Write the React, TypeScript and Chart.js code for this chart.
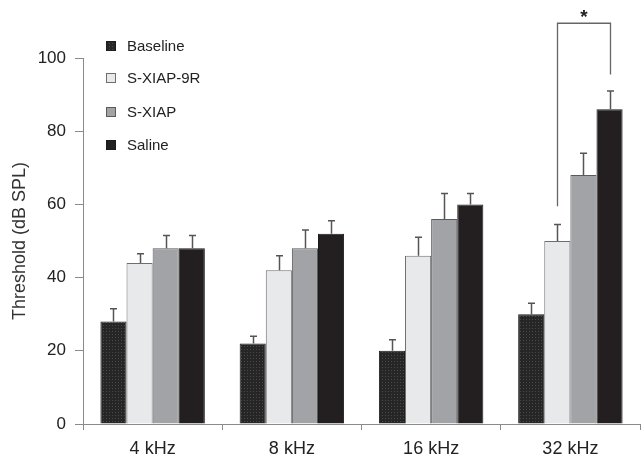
import React, { useEffect, useRef } from "react";
import { Chart, registerables } from "chart.js";

Chart.register(...registerables);

const categories = ["4 kHz", "8 kHz", "16 kHz", "32 kHz"];
const seriesNames = ["Baseline", "S-XIAP-9R", "S-XIAP", "Saline"];
const baseline = [28, 22, 20, 30];
const sxiap9r = [44, 42, 46, 50];
const sxiap = [48, 48, 56, 68];
const saline = [48, 52, 60, 86];
const baselineErr = [3.5, 2, 3, 3];
const sxiap9rErr = [2.5, 4, 5, 4.5];
const sxiapErr = [3.5, 5, 7, 6];
const salineErr = [3.5, 3.5, 3, 5];
const yTicks = [0, 20, 40, 60, 80, 100];

function makePattern(): CanvasPattern | string {
  const c = document.createElement("canvas");
  c.width = 3;
  c.height = 3;
  const g = c.getContext("2d");
  if (!g) return "#2a2a2a";
  g.fillStyle = "#262626";
  g.fillRect(0, 0, 3, 3);
  g.fillStyle = "#4a4a4a";
  g.fillRect(1, 1, 1, 1);
  const p = g.createPattern(c, "repeat");
  return p || "#2a2a2a";
}

const FONT = "'Liberation Sans', Arial, Helvetica, sans-serif";

export default function App() {
  const ref = useRef<HTMLCanvasElement>(null);

  useEffect(() => {
    if (!ref.current) return;
    const pattern = makePattern();
    const values = [baseline, sxiap9r, sxiap, saline];
    const errs = [baselineErr, sxiap9rErr, sxiapErr, salineErr];
    const fills: any[] = [pattern, "#e8e9eb", "#a2a3a6", "#231f20"];
    const borders = ["#1e1e1e", "#6e6e6e", "#5a5a5a", "#1a1a1a"];

    const errorBars = {
      id: "errorBars",
      afterDatasetsDraw(chart: any) {
        const ctx = chart.ctx;
        const yScale = chart.scales.y;
        ctx.save();
        ctx.strokeStyle = "#555";
        ctx.lineWidth = 1.5;
        chart.data.datasets.forEach((ds: any, di: number) => {
          const meta = chart.getDatasetMeta(di);
          meta.data.forEach((bar: any, i: number) => {
            const top = yScale.getPixelForValue(ds.data[i]);
            const eTop = yScale.getPixelForValue(ds.data[i] + errs[di][i]);
            const x = Math.round(bar.x) + 0.5;
            ctx.beginPath();
            ctx.moveTo(x, top);
            ctx.lineTo(x, eTop);
            ctx.moveTo(x - 3.5, eTop);
            ctx.lineTo(x + 3.5, eTop);
            ctx.stroke();
          });
        });
        // significance bracket between S-XIAP-9R and Saline at 32 kHz
        const m1 = chart.getDatasetMeta(1).data[3];
        const m3 = chart.getDatasetMeta(3).data[3];
        const yTop = yScale.getPixelForValue(109.5);
        const yLeft = yScale.getPixelForValue(59.5);
        const yRight = yScale.getPixelForValue(95.5);
        const xl = Math.round(m1.x) + 0.5;
        const xr = Math.round(m3.x) + 0.5;
        ctx.strokeStyle = "#666";
        ctx.lineWidth = 1.3;
        ctx.beginPath();
        ctx.moveTo(xl, yLeft);
        ctx.lineTo(xl, yTop);
        ctx.lineTo(xr, yTop);
        ctx.lineTo(xr, yRight);
        ctx.stroke();
        ctx.fillStyle = "#222";
        ctx.font = `bold 19px ${FONT}`;
        ctx.textAlign = "center";
        ctx.textBaseline = "middle";
        ctx.fillText("*", (xl + xr) / 2, yTop - 5);

        // legend
        ctx.font = `15px ${FONT}`;
        ctx.textAlign = "left";
        ctx.textBaseline = "middle";
        const rows = [46, 78, 112, 145];
        chart.data.datasets.forEach((ds: any, di: number) => {
          const cy = rows[di];
          ctx.fillStyle = fills[di];
          ctx.fillRect(106, cy - 5, 10, 10);
          ctx.strokeStyle = borders[di];
          ctx.lineWidth = 1;
          ctx.strokeRect(106.5, cy - 4.5, 9, 9);
          ctx.fillStyle = "#222";
          ctx.fillText(ds.label, 127, cy + 1);
        });
        ctx.restore();
      },
    };

    const chart = new Chart(ref.current, {
      type: "bar",
      data: {
        labels: categories,
        datasets: seriesNames.map((name, di) => ({
          label: name,
          data: values[di],
          backgroundColor: fills[di],
          borderColor: borders[di],
          borderWidth: 1,
          borderSkipped: "bottom",
          categoryPercentage: 0.75,
          barPercentage: 1,
        })),
      },
      options: {
        animation: false,
        responsive: false,
        maintainAspectRatio: false,
        layout: { padding: { left: 0, right: 1, top: 58, bottom: 0 } },
        plugins: {
          legend: { display: false },
          tooltip: { enabled: false },
        },
        scales: {
          x: {
            grid: {
              offset: true,
              drawOnChartArea: false,
              drawTicks: true,
              tickLength: 6,
              color: "#8a8a8a",
            },
            border: { color: "#8a8a8a", width: 1 },
            ticks: {
              color: "#222",
              font: { family: FONT, size: 18 },
              padding: 8,
            },
            afterFit: (s: any) => {
              s.height = 41;
            },
          },
          y: {
            min: 0,
            max: 100,
            afterBuildTicks: (s: any) => {
              s.ticks = yTicks.map((v) => ({ value: v }));
            },
            grid: {
              drawOnChartArea: false,
              drawTicks: true,
              tickLength: 8,
              color: "#8a8a8a",
            },
            border: { color: "#8a8a8a", width: 1 },
            ticks: {
              color: "#222",
              font: { family: FONT, size: 17 },
              padding: 9,
            },
            title: {
              display: true,
              text: "Threshold (dB SPL)",
              color: "#333",
              font: { family: FONT, size: 18 },
              padding: { top: 9, bottom: 0 },
            },
            afterFit: (s: any) => {
              s.width = 83;
            },
          },
        },
      },
      plugins: [errorBars],
    });
    return () => chart.destroy();
  }, []);

  return (
    <div style={{ position: "fixed", left: 0, top: 0, width: 641, height: 465, background: "#fff" }}>
      <canvas ref={ref} width={641} height={465} style={{ display: "block", width: 641, height: 465 }} />
    </div>
  );
}
